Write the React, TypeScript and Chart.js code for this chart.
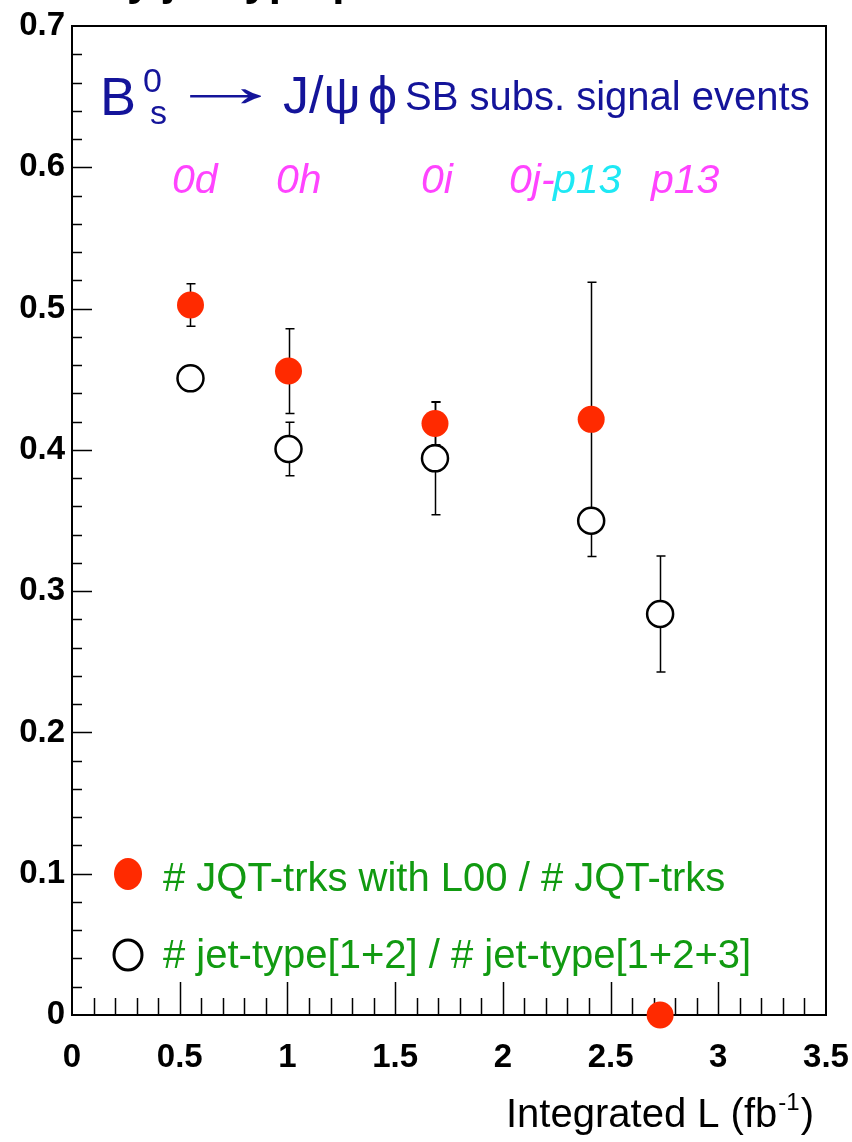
import React, { useEffect, useRef } from "react";
import { Chart, registerables } from "chart.js";

Chart.register(...registerables);

// ---- data ----
const lumiX = [0.55, 1.005, 1.685, 2.41, 2.73];
const fracL00 = [0.5025, 0.4558, 0.4187, 0.4216, 0.0];
const fracL00Err = [0.015, 0.03, 0.015, 0.097, 0.0];
const fracJet = [0.4506, 0.4006, 0.394, 0.3498, 0.2838];
const fracJetErr = [0.007, 0.019, 0.04, 0.008, 0.041];
const xTickMin = 0;
const xTickMax = 3.5;
const xTickStep = 0.5;
const yTickMin = 0;
const yTickMax = 0.7;
const yTickStep = 0.1;
const runLabels = ["0d", "0h", "0i", "0j-", "p13", "p13"];
const seriesNames = ["# JQT-trks with L00 / # JQT-trks", "# jet-type[1+2] / # jet-type[1+2+3]"];
const xTitle = ["Integrated L (fb", "-1", ")"];

const FONT = '"Liberation Sans", Arial, Helvetica, sans-serif';
const RED = "#ff2a00";
const GREEN = "#119a11";
const BLUE = "#14149a";
const MAGENTA = "#ff44ff";
const CYAN = "#1ee8f4";

const overlay = {
  id: "overlay",
  beforeDatasetsDraw(chart: any) {
    const { ctx, chartArea: a, scales } = chart;
    const x = scales.x;
    const y = scales.y;
    ctx.save();
    ctx.strokeStyle = "#000";
    // frame
    ctx.lineWidth = 2;
    ctx.strokeRect(a.left, a.top, a.right - a.left, a.bottom - a.top);
    // inner ticks
    ctx.lineWidth = 1.5;
    ctx.beginPath();
    for (let i = 1; i < 35; i++) {
      const px = Math.round(x.getPixelForValue(i / 10)) + 0.5;
      const len = i % 5 === 0 ? 33 : 17;
      ctx.moveTo(px, a.bottom);
      ctx.lineTo(px, a.bottom - len);
    }
    for (let i = 1; i < 35; i++) {
      const py = Math.round(y.getPixelForValue(i * 0.02)) + 0.5;
      const len = i % 5 === 0 ? 20 : 10;
      ctx.moveTo(a.left, py);
      ctx.lineTo(a.left + len, py);
    }
    ctx.stroke();
    // error bars
    const drawErr = (vals: number[], errs: number[]) => {
      ctx.beginPath();
      vals.forEach((v, i) => {
        const e = errs[i];
        if (!e) return;
        const px = Math.round(x.getPixelForValue(lumiX[i])) + 0.5;
        const t = y.getPixelForValue(v + e);
        const b = y.getPixelForValue(v - e);
        ctx.moveTo(px, t);
        ctx.lineTo(px, b);
        ctx.moveTo(px - 4, t);
        ctx.lineTo(px + 5, t);
        ctx.moveTo(px - 4, b);
        ctx.lineTo(px + 5, b);
      });
      ctx.stroke();
    };
    ctx.lineWidth = 1.5;
    drawErr(fracL00, fracL00Err);
    drawErr(fracJet, fracJetErr);
    ctx.restore();
  },
  afterDraw(chart: any) {
    const { ctx } = chart;
    ctx.save();
    ctx.textAlign = "left";
    ctx.textBaseline = "alphabetic";
    // cut title (only descenders visible)
    ctx.fillStyle = "#000";
    ctx.font = `bold 44px ${FONT}`;
    ctx.fillText("by jet-type p", 100, -5);

    // decay formula
    ctx.fillStyle = BLUE;
    ctx.font = `54px ${FONT}`;
    ctx.fillText("B", 100, 115);
    ctx.font = `34px ${FONT}`;
    ctx.fillText("0", 143, 92);
    ctx.fillText("s", 150, 124);
    ctx.save();
    ctx.font = `52px ${FONT}`;
    ctx.translate(166, 106);
    ctx.scale(2.3, 1.15);
    ctx.fillText("\u2192", 0, 0);
    ctx.restore();
    ctx.font = `52px ${FONT}`;
    ctx.fillText("J/\u03c8", 283, 113);
    ctx.fillText("\u03d5", 368, 113);
    ctx.font = `40px ${FONT}`;
    ctx.fillText("SB subs. signal events", 405, 110);

    // run period labels
    ctx.font = `italic 41px ${FONT}`;
    const runPos = [172, 276, 421, 509, 553, 651];
    const runCol = [MAGENTA, MAGENTA, MAGENTA, MAGENTA, CYAN, MAGENTA];
    runLabels.forEach((t, i) => {
      ctx.fillStyle = runCol[i];
      ctx.fillText(t, runPos[i], 193);
    });

    // legend
    ctx.fillStyle = RED;
    ctx.beginPath();
    ctx.ellipse(128, 874, 14, 16, 0, 0, Math.PI * 2);
    ctx.fill();
    ctx.strokeStyle = "#000";
    ctx.lineWidth = 3;
    ctx.beginPath();
    ctx.ellipse(128, 955, 14, 15, 0, 0, Math.PI * 2);
    ctx.stroke();
    ctx.fillStyle = GREEN;
    ctx.font = `40px ${FONT}`;
    ctx.fillText(seriesNames[0], 163, 891);
    ctx.fillText(seriesNames[1], 163, 968);

    // x axis title
    ctx.fillStyle = "#000";
    ctx.font = `40px ${FONT}`;
    let xx = 506;
    ctx.fillText(xTitle[0], xx, 1127);
    xx += ctx.measureText(xTitle[0]).width;
    ctx.font = `24px ${FONT}`;
    ctx.fillText(xTitle[1], xx + 1, 1110);
    xx += ctx.measureText(xTitle[1]).width + 2;
    ctx.font = `40px ${FONT}`;
    ctx.fillText(xTitle[2], xx, 1127);
    ctx.restore();
  },
};

const fmt = (v: any) => `${+Number(v).toFixed(2)}`;

export default function App() {
  const ref = useRef<HTMLCanvasElement | null>(null);
  useEffect(() => {
    if (!ref.current) return;
    const tickFont = { family: FONT, size: 33, weight: "bold" as const };
    const chart = new Chart(ref.current, {
      type: "scatter",
      data: {
        datasets: [
          {
            label: seriesNames[0],
            data: lumiX.map((v, i) => ({ x: v, y: fracL00[i] })),
            pointRadius: 13.5,
            pointBackgroundColor: RED,
            pointBorderColor: RED,
            pointBorderWidth: 0,
            showLine: false,
            clip: false as any,
          },
          {
            label: seriesNames[1],
            data: lumiX.map((v, i) => ({ x: v, y: fracJet[i] })),
            pointRadius: 13,
            pointBackgroundColor: "#ffffff",
            pointBorderColor: "#000000",
            pointBorderWidth: 2.5,
            showLine: false,
            clip: false as any,
          },
        ],
      },
      options: {
        responsive: false,
        animation: false,
        events: [],
        layout: { padding: { left: 0, top: 26, right: 26, bottom: 0 } },
        plugins: { legend: { display: false }, tooltip: { enabled: false } },
        scales: {
          x: {
            type: "linear",
            min: xTickMin,
            max: xTickMax,
            ticks: { stepSize: xTickStep, font: tickFont, color: "#000", padding: 23, maxRotation: 0, autoSkip: false, callback: fmt },
            grid: { display: false, drawTicks: false },
            border: { display: false },
            afterFit: (s: any) => {
              s.height = 127;
              s.paddingLeft = 0;
              s.paddingRight = 0;
            },
          },
          y: {
            type: "linear",
            min: yTickMin,
            max: yTickMax,
            ticks: { stepSize: yTickStep, font: tickFont, color: "#000", padding: 7, autoSkip: false, callback: fmt },
            grid: { display: false, drawTicks: false },
            border: { display: false },
            afterFit: (s: any) => {
              s.width = 72;
              s.paddingTop = 0;
              s.paddingBottom = 0;
            },
          },
        },
      },
      plugins: [overlay],
    });
    return () => chart.destroy();
  }, []);
  return (
    <div style={{ position: "absolute", left: 0, top: 0, width: 852, height: 1142, background: "#fff" }}>
      <canvas ref={ref} width={852} height={1142} style={{ display: "block", width: 852, height: 1142 }} />
    </div>
  );
}
